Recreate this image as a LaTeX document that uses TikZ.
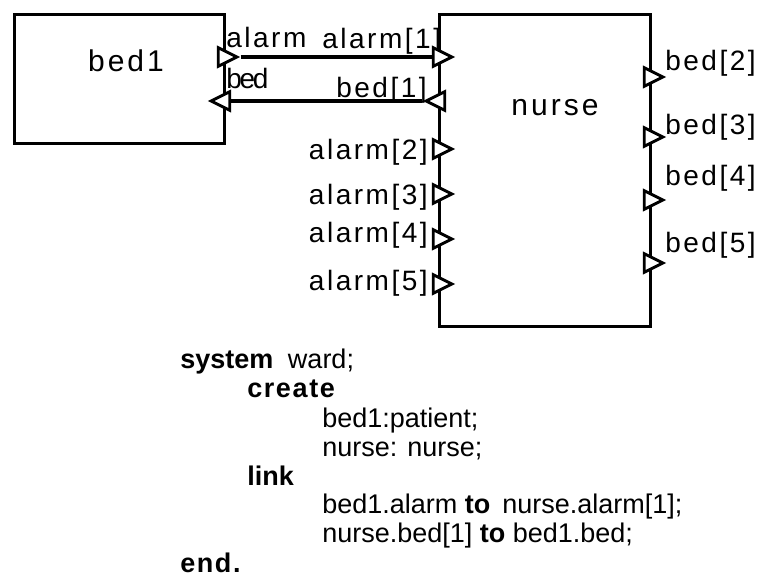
\documentclass[tikz,border=0pt]{standalone}
\usepackage{fontspec}
\setmainfont{Liberation Sans}
\newfontfamily\portfont[LetterSpace=9]{Liberation Sans}
\newfontfamily\tightfont[LetterSpace=-8]{Liberation Sans}
\newfontfamily\boxfont[LetterSpace=10]{Liberation Sans}
\newfontfamily\keyfont[LetterSpace=6]{Liberation Sans}
\usetikzlibrary{shapes.geometric}

\begin{document}
\begin{tikzpicture}[x=0.75pt, y=-0.75pt,
    block/.style={draw, line width=2pt, inner sep=0pt},
    port/.style={draw, isosceles triangle, isosceles triangle stretches,
      minimum width=14pt, minimum height=14pt, inner sep=0pt,
      line width=2.2pt, fill=white},
    portin/.style={port, shape border rotate=180},
    conn/.style={line width=3pt},
    plabel/.style={font=\portfont\fontsize{21}{23}\selectfont, inner sep=0pt},
    blabel/.style={font=\boxfont\fontsize{22.5}{24}\selectfont, inner sep=0pt, anchor=base},
    code/.style={font=\fontsize{20.25}{22}\selectfont, inner sep=0pt, anchor=base west}]
  \useasboundingbox (0,0) rectangle (757,576);

  % port names
  \node[plabel, anchor=base west] (lalarm) at (226,47) {alarm};
  \node[plabel, anchor=base west, font=\tightfont\fontsize{21}{23}\selectfont] (lbed) at (226,88) {bed};
  \node[plabel, anchor=base west] (lalarm1) at (322,48) {alarm[1]};
  \node[plabel, anchor=base east] (lbed1) at (427,97) {bed[1]};
  \foreach \i/\y in {2/159,3/204,4/242,5/290}
    \node[plabel, anchor=base east] (lalarm\i) at (428,\y) {alarm[\i]};
  \foreach \i/\y in {2/70,3/134,4/185,5/252}
    \node[plabel, anchor=base west] (lbed\i) at (665,\y) {bed[\i]};

  % the two blocks
  \node[block, anchor=north west, minimum width=157.5pt, minimum height=96.75pt] (bed1) at (13,13) {};
  \node[block, anchor=north west, minimum width=158.25pt, minimum height=234pt] (nurse) at (438,13) {};
  \node[blabel] (bed1lbl) at (126,71) {bed1};
  \node[blabel] (nurselbl) at (555,115) {nurse};

  % ports
  \node[port] (b1alarm) at (224,57) {};
  \node[portin] (b1bed) at (224,101) {};
  \node[port] (nalarm1) at (439,57) {};
  \node[portin] (nbed1) at (439,101) {};
  \foreach \i/\y in {2/149,3/194,4/239,5/284}
    \node[port] (nalarm\i) at (439,\y) {};
  \foreach \i/\y in {2/77,3/137,4/200,5/263}
    \node[port] (nbed\i) at (650,\y) {};

  % links
  \draw[conn] (b1alarm.east) -- (nalarm1.west);
  \draw[conn] (nbed1.west) -- (b1bed.east);

  % program text
  \node[code] (c1) at (180,368) {\textbf{system}\hspace{11pt}ward;};
  \node[code] (c2) at (247,397) {\keyfont\bfseries create};
  \node[code] (c3) at (322,427) {bed1:patient;};
  \node[code] (c4) at (322,456) {nurse: nurse;};
  \node[code] (c5) at (247,485) {\textbf{link}};
  \node[code] (c6) at (322,513) {bed1.alarm \textbf{to}\hspace{9pt}nurse.alarm[1];};
  \node[code] (c7) at (322,542) {nurse.bed[1] \textbf{to} bed1.bed;};
  \node[code] (c8) at (180,572) {\keyfont\bfseries end.};
\end{tikzpicture}
\end{document}
